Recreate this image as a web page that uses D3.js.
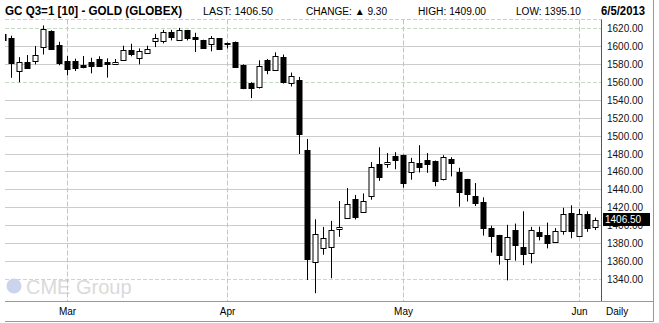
<!DOCTYPE html>
<html>
<head>
<meta charset="utf-8">
<script src="https://cdn.jsdelivr.net/npm/d3@7"></script>
<style>
    body { margin: 0; background: #fff; }
    svg { display: block; }
</style>
</head>
<body>
<div id="gold-chart"></div>
<script>
// trading days shown on the chart
var dates = ["2013-02-19", "2013-02-20", "2013-02-21", "2013-02-22", "2013-02-25", "2013-02-26", "2013-02-27", "2013-02-28",
    "2013-03-01", "2013-03-04", "2013-03-05", "2013-03-06", "2013-03-07", "2013-03-08", "2013-03-11", "2013-03-12",
    "2013-03-13", "2013-03-14", "2013-03-15", "2013-03-18", "2013-03-19", "2013-03-20", "2013-03-21", "2013-03-22",
    "2013-03-25", "2013-03-26", "2013-03-27", "2013-03-28",
    "2013-04-01", "2013-04-02", "2013-04-03", "2013-04-04", "2013-04-05", "2013-04-08", "2013-04-09", "2013-04-10",
    "2013-04-11", "2013-04-12", "2013-04-15", "2013-04-16", "2013-04-17", "2013-04-18", "2013-04-19", "2013-04-22",
    "2013-04-23", "2013-04-24", "2013-04-25", "2013-04-26", "2013-04-29", "2013-04-30",
    "2013-05-01", "2013-05-02", "2013-05-03", "2013-05-06", "2013-05-07", "2013-05-08", "2013-05-09", "2013-05-10",
    "2013-05-13", "2013-05-14", "2013-05-15", "2013-05-16", "2013-05-17", "2013-05-20", "2013-05-21", "2013-05-22",
    "2013-05-23", "2013-05-24", "2013-05-28", "2013-05-29", "2013-05-30", "2013-05-31",
    "2013-06-03", "2013-06-04", "2013-06-05"]

var open = [1614, 1609.6, 1572.6, 1583, 1583.7, 1599, 1617.4, 1601.5,
    1583.7, 1584, 1579.7, 1583, 1586, 1582.6, 1580.4, 1584.5,
    1596, 1586.7, 1592.6, 1606, 1606, 1616.3, 1607.4, 1618,
    1610.4, 1607, 1602.6, 1608.9,
    1604, 1605.2, 1579.7, 1559.7, 1554.9, 1584.5, 1573.4, 1588.6,
    1559, 1563, 1484.2, 1359.2, 1375, 1376.2, 1396.2, 1408.4,
    1429.5, 1415, 1432.8, 1468.7, 1468.7, 1477.5,
    1479, 1459.4, 1469.8, 1473, 1472.4, 1452.4, 1474.2, 1460,
    1452, 1433.2, 1426.5, 1397.6, 1389.5, 1362.5, 1395.4, 1376.5,
    1369.5, 1393.2, 1389.5, 1381.7, 1394, 1414.6,
    1389, 1412.8, 1398.5]

var high = [1616, 1612, 1588, 1590.4, 1600.4, 1623.4, 1618, 1605.2,
    1589.3, 1586.3, 1589.3, 1587.4, 1589, 1586.7, 1586, 1600.8,
    1603, 1597.8, 1600.8, 1614, 1618.5, 1618.5, 1620.7, 1618.5,
    1615.2, 1607.5, 1611.5, 1609.2,
    1604.3, 1605.5, 1580, 1560, 1584.5, 1586, 1593.4, 1591,
    1570.8, 1566, 1496.8, 1407.2, 1398.7, 1405.4, 1427.6, 1442,
    1434.3, 1436, 1471, 1487.5, 1481, 1482,
    1479.3, 1475.7, 1489.8, 1481, 1472.7, 1478.7, 1476.4, 1464.6,
    1452.3, 1447.6, 1431.7, 1400, 1389.8, 1401, 1402.4, 1416.1,
    1398.7, 1399, 1403.5, 1397.3, 1420, 1422.8,
    1418.7, 1416, 1409]

var low = [1604, 1565, 1560, 1575, 1580, 1591, 1596.5, 1579,
    1567.8, 1572.6, 1575.6, 1570, 1577.3, 1565.2, 1580, 1584,
    1589, 1580, 1592, 1599.3, 1603.4, 1606.7, 1607, 1606.7,
    1593.7, 1597.5, 1594.5, 1596.5,
    1597.8, 1576.5, 1552.3, 1542.3, 1553, 1569, 1572.6, 1558.6,
    1555.3, 1480, 1339.5, 1324.7, 1367.7, 1341.4, 1387.6, 1408,
    1406.9, 1414.8, 1429, 1450, 1464.6, 1463,
    1442.4, 1451.3, 1459.4, 1459, 1444, 1450.5, 1455, 1421.3,
    1427, 1422, 1389, 1370, 1356.6, 1339, 1361, 1356,
    1358, 1383.6, 1374.7, 1381.5, 1390, 1386,
    1388.8, 1393.2, 1395.1]

var close = [1607, 1581, 1582.6, 1575.6, 1590.4, 1619.5, 1597.4, 1581.2,
    1574.5, 1575.6, 1577.5, 1577.8, 1577.8, 1580.4, 1583, 1596,
    1591, 1594.8, 1597.4, 1609.6, 1616, 1610.8, 1618, 1609.6,
    1608.2, 1597.8, 1609.3, 1596.7,
    1602.2, 1576.7, 1554, 1553.4, 1578, 1573.4, 1589.3, 1560,
    1567, 1502.3, 1362.5, 1390.6, 1386.5, 1395, 1398.4, 1424,
    1410.2, 1427.2, 1465, 1454.6, 1471, 1473.5,
    1448, 1471, 1465.7, 1469, 1450, 1477.2, 1470, 1438,
    1435.7, 1425.8, 1398, 1388, 1367, 1387.3, 1378.8, 1369,
    1395, 1388, 1380.2, 1393.6, 1413.5, 1393.6,
    1413.5, 1397.2, 1406.5]

// month ticks on the time axis
var monthDates = ["2013-03-01", "2013-04-01", "2013-05-01", "2013-06-03"]
var monthLabels = ["Mar", "Apr", "May", "Jun"]

// price ticks on the right axis
var priceTicks = [1340, 1360, 1380, 1400, 1420, 1440, 1460, 1480, 1500, 1520, 1540, 1560, 1580, 1600, 1620]
var dashedTicks = [1620, 1560, 1340]

// header values
var title = "GC Q3=1 [10] - GOLD (GLOBEX)"
var lastPrice = 1406.50
var change = 9.30
var dayHigh = 1409.00
var dayLow = 1395.10
var quoteDate = "6/5/2013"

var width = 659, height = 323
var plot = {left: 5, right: 601.5, top: 19.5, bottom: 301.5}
var font = "'Liberation Sans', Arial, sans-serif"

var data = dates.map(function (d, i) {
    return {date: d, open: open[i], high: high[i], low: low[i], close: close[i]}
})

var svg = d3.select("#gold-chart")
    .append("svg")
    .attr("width", width)
    .attr("height", height)
    .style("font-family", font)

svg.append("rect")
    .attr("width", width)
    .attr("height", height)
    .style("fill", "#ffffff")

// scales
var x = d3.scalePoint()
    .domain(dates)
    .range([3.5, 595.5])

var y = d3.scaleLinear()
    .domain([1340, 1620])
    .range([279.5, 28.5])

var crisp = function (v) { return Math.round(v - 0.5) + 0.5 }

// header
var header = [
    {text: title, x: 5, len: 177, bold: true, size: 13},
    {text: "LAST: " + lastPrice.toFixed(2), x: 203, len: 70, bold: false, size: 10},
    {text: "CHANGE: \u25B2 " + change.toFixed(2), x: 306, len: 81, bold: false, size: 10},
    {text: "HIGH: " + dayHigh.toFixed(2), x: 418, len: 68, bold: false, size: 10},
    {text: "LOW: " + dayLow.toFixed(2), x: 516, len: 65, bold: false, size: 10},
    {text: quoteDate, x: 601, len: 44, bold: true, size: 12}
]
svg.selectAll(".header")
    .data(header)
    .enter()
    .append("text")
    .attr("class", "header")
    .attr("x", function (d) { return d.x })
    .attr("y", 15)
    .attr("textLength", function (d) { return d.len })
    .attr("lengthAdjust", "spacingAndGlyphs")
    .style("font-size", function (d) { return d.size + "px" })
    .style("font-weight", function (d) { return d.bold ? "bold" : "normal" })
    .style("fill", "#000")
    .text(function (d) { return d.text })

// CME Group watermark
var mark = svg.append("g").style("opacity", 0.9)
mark.append("circle")
    .attr("cx", 14)
    .attr("cy", 286)
    .attr("r", 7.5)
    .style("fill", "#c6d0ec")
mark.append("text")
    .attr("x", 26)
    .attr("y", 293.5)
    .style("font-size", "20px")
    .style("fill", "#d6d6d6")
    .text("CME Group")

// horizontal grid
svg.append("g")
    .selectAll("line")
    .data(priceTicks)
    .enter()
    .append("line")
    .attr("x1", plot.left)
    .attr("x2", plot.right)
    .attr("y1", function (d) { return crisp(y(d)) })
    .attr("y2", function (d) { return crisp(y(d)) })
    .style("stroke", function (d) { return dashedTicks.indexOf(d) >= 0 ? "#c4dcc4" : "#cccccc" })
    .style("stroke-dasharray", function (d) { return dashedTicks.indexOf(d) >= 0 ? "4,2" : null })

// top border of the plot
svg.append("line")
    .attr("x1", plot.left).attr("x2", plot.right)
    .attr("y1", plot.top).attr("y2", plot.top)
    .style("stroke", "#d4c8d4")
    .style("stroke-dasharray", "4,2")

// month grid
svg.append("g")
    .selectAll("line")
    .data(monthDates)
    .enter()
    .append("line")
    .attr("x1", function (d) { return crisp(x(d)) })
    .attr("x2", function (d) { return crisp(x(d)) })
    .attr("y1", plot.top)
    .attr("y2", plot.bottom)
    .style("stroke", "#c4c4c4")
    .style("stroke-dasharray", "5,2")

// candles
var clip = svg.append("defs").append("clipPath")
    .attr("id", "plot-clip")
    .append("rect")
    .attr("x", plot.left)
    .attr("y", plot.top)
    .attr("width", plot.right - plot.left)
    .attr("height", plot.bottom - plot.top)

var candles = svg.append("g")
    .attr("clip-path", "url(#plot-clip)")
    .selectAll(".candle")
    .data(data)
    .enter()
    .append("g")
    .attr("class", "candle")

candles.append("line")
    .attr("x1", function (d) { return crisp(x(d.date)) })
    .attr("x2", function (d) { return crisp(x(d.date)) })
    .attr("y1", function (d) { return y(d.high) })
    .attr("y2", function (d) { return y(d.low) })
    .style("stroke", "#000")
    .style("stroke-width", 1)

candles.append("rect")
    .attr("x", function (d) { return crisp(x(d.date)) - 2.5 })
    .attr("width", 5)
    .attr("y", function (d) { return Math.round(y(Math.max(d.open, d.close))) + 0.5 })
    .attr("height", function (d) {
        return Math.max(1, Math.round(y(Math.min(d.open, d.close))) - Math.round(y(Math.max(d.open, d.close))))
    })
    .style("fill", function (d) { return d.close >= d.open ? "#fff" : "#000" })
    .style("stroke", "#000")
    .style("stroke-width", 1)

// right axis
svg.append("line")
    .attr("x1", plot.right).attr("x2", plot.right)
    .attr("y1", plot.top).attr("y2", plot.bottom)
    .style("stroke", "#555")

svg.append("g")
    .selectAll("text")
    .data(priceTicks)
    .enter()
    .append("text")
    .attr("x", 607)
    .attr("y", function (d) { return y(d) + 3.5 })
    .style("font-size", "10px")
    .style("fill", "#111")
    .text(function (d) { return d.toFixed(2) })

// last price tag
svg.append("rect")
    .attr("x", 603)
    .attr("y", Math.round(y(lastPrice)) - 7)
    .attr("width", 47)
    .attr("height", 13)
    .style("fill", "#000")
svg.append("text")
    .attr("x", 605)
    .attr("y", y(lastPrice) + 3.5)
    .style("font-size", "10px")
    .style("fill", "#fff")
    .text(lastPrice.toFixed(2))

// time axis frame
svg.append("line")
    .attr("x1", plot.left).attr("x2", 653.5)
    .attr("y1", plot.bottom).attr("y2", plot.bottom)
    .style("stroke", "#999")
svg.append("line")
    .attr("x1", plot.left).attr("x2", 653.5)
    .attr("y1", 321.5).attr("y2", 321.5)
    .style("stroke", "#999")
svg.append("line")
    .attr("x1", 653.5).attr("x2", 653.5)
    .attr("y1", 0).attr("y2", 321.5)
    .style("stroke", "#999")

svg.append("g")
    .selectAll("text")
    .data(monthDates)
    .enter()
    .append("text")
    .attr("x", function (d) { return x(d) })
    .attr("y", 315)
    .attr("text-anchor", "middle")
    .style("font-size", "10px")
    .style("fill", "#000")
    .text(function (d, i) { return monthLabels[i] })

svg.append("text")
    .attr("x", 606)
    .attr("y", 315)
    .style("font-size", "10px")
    .style("fill", "#000")
    .text("Daily")
</script>
</body>
</html>
